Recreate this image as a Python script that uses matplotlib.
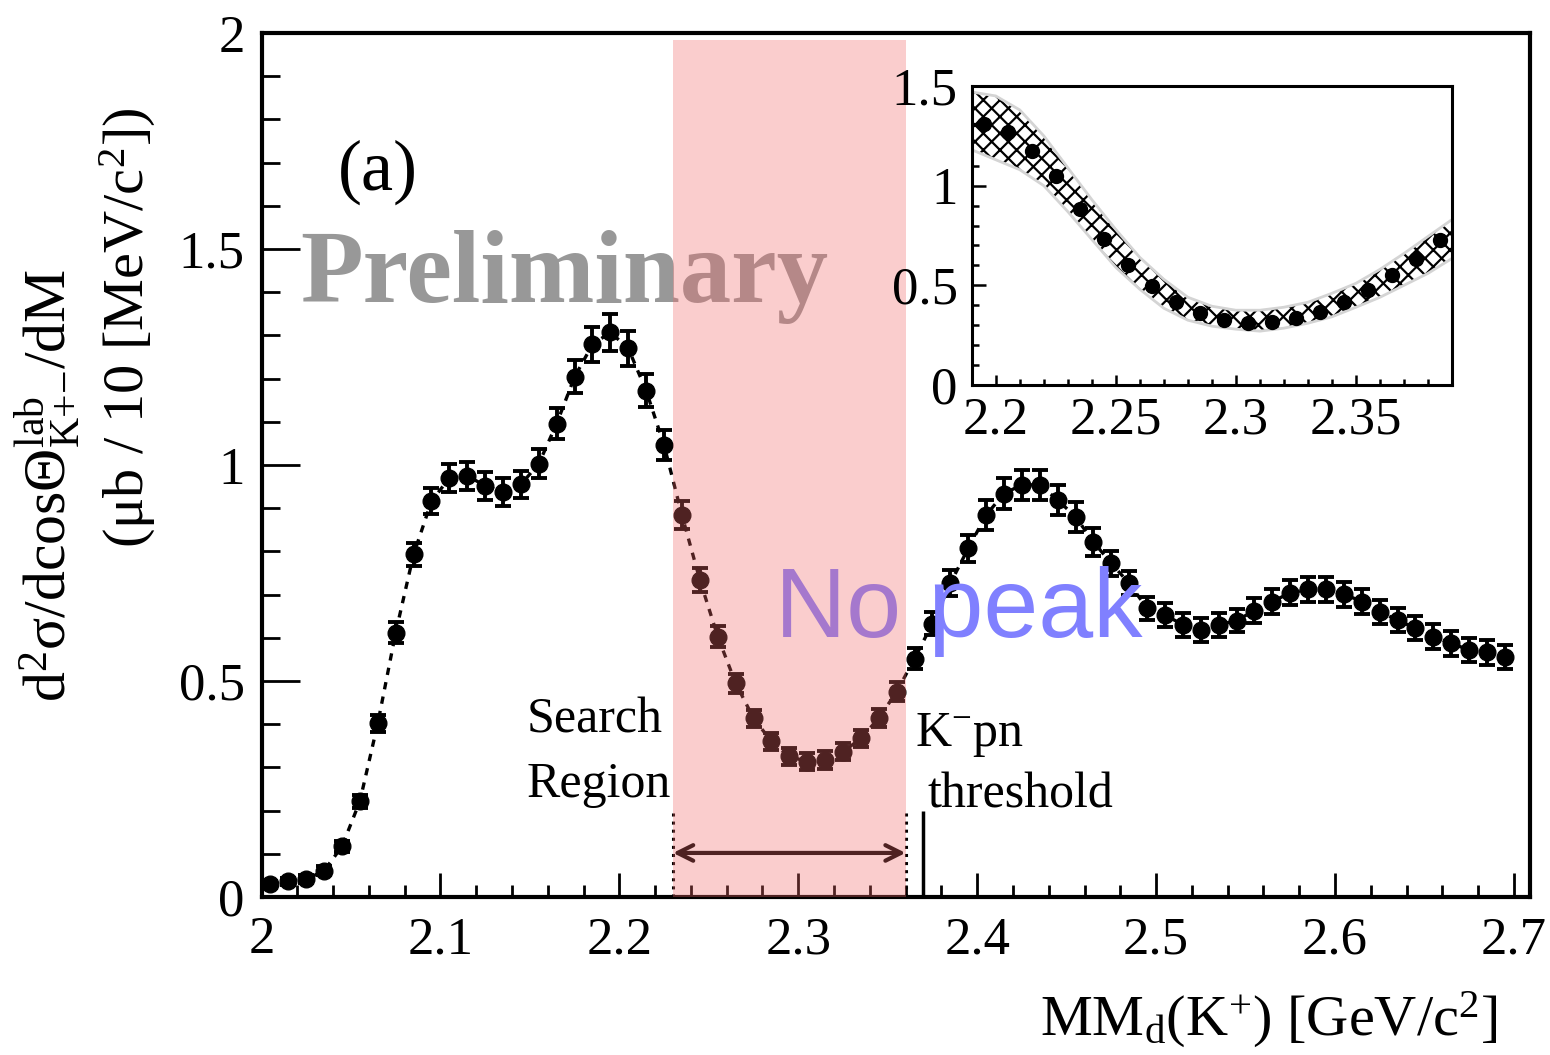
import matplotlib
matplotlib.use("Agg")
import matplotlib.pyplot as plt
import numpy as np
from matplotlib.ticker import MultipleLocator, FormatStrFormatter

plt.rcParams['font.family'] = ['Liberation Serif', 'DejaVu Serif']
plt.rcParams['mathtext.fontset'] = 'custom'
plt.rcParams['mathtext.rm'] = 'Liberation Serif'
plt.rcParams['mathtext.it'] = 'Liberation Serif:italic'
plt.rcParams['mathtext.bf'] = 'Liberation Serif:bold'
plt.rcParams['hatch.linewidth'] = 1.6

# bin centres, 10 MeV bins
mass = [2.005, 2.015, 2.025, 2.035, 2.045, 2.055, 2.065, 2.075, 2.085, 2.095,
        2.105, 2.115, 2.125, 2.135, 2.145, 2.155, 2.165, 2.175, 2.185, 2.195,
        2.205, 2.215, 2.225, 2.235, 2.245, 2.255, 2.265, 2.275, 2.285, 2.295,
        2.305, 2.315, 2.325, 2.335, 2.345, 2.355, 2.365, 2.375, 2.385, 2.395,
        2.405, 2.415, 2.425, 2.435, 2.445, 2.455, 2.465, 2.475, 2.485, 2.495,
        2.505, 2.515, 2.525, 2.535, 2.545, 2.555, 2.565, 2.575, 2.585, 2.595,
        2.605, 2.615, 2.625, 2.635, 2.645, 2.655, 2.665, 2.675, 2.685, 2.695]
xsec = [0.029, 0.036, 0.041, 0.061, 0.117, 0.222, 0.402, 0.612, 0.793, 0.916,
        0.970, 0.975, 0.952, 0.938, 0.955, 1.003, 1.096, 1.204, 1.279, 1.307,
        1.270, 1.172, 1.046, 0.884, 0.734, 0.603, 0.495, 0.414, 0.360, 0.326,
        0.313, 0.317, 0.336, 0.367, 0.414, 0.475, 0.552, 0.633, 0.726, 0.807,
        0.884, 0.934, 0.954, 0.954, 0.919, 0.880, 0.822, 0.772, 0.726, 0.668,
        0.653, 0.630, 0.618, 0.630, 0.640, 0.663, 0.684, 0.704, 0.712, 0.712,
        0.701, 0.684, 0.660, 0.641, 0.622, 0.603, 0.587, 0.572, 0.566, 0.556]
xsec_err = [0.008, 0.008, 0.009, 0.010, 0.012, 0.015, 0.020, 0.024, 0.027, 0.030,
            0.032, 0.032, 0.032, 0.032, 0.032, 0.033, 0.036, 0.038, 0.040, 0.042,
            0.040, 0.038, 0.035, 0.032, 0.028, 0.025, 0.022, 0.020, 0.020, 0.020,
            0.020, 0.020, 0.020, 0.020, 0.021, 0.022, 0.025, 0.027, 0.030, 0.032,
            0.034, 0.035, 0.035, 0.035, 0.035, 0.034, 0.032, 0.030, 0.028, 0.027,
            0.027, 0.027, 0.027, 0.027, 0.027, 0.028, 0.028, 0.029, 0.029, 0.029,
            0.029, 0.028, 0.028, 0.028, 0.028, 0.028, 0.028, 0.028, 0.028, 0.028]

# inset: fit band
band_x = [2.19, 2.20, 2.21, 2.22, 2.23, 2.24, 2.25, 2.26, 2.27, 2.28, 2.29,
          2.30, 2.31, 2.32, 2.33, 2.34, 2.35, 2.36, 2.37, 2.38, 2.39]
band_lo = [1.18, 1.13, 1.08, 1.00, 0.87, 0.73, 0.59, 0.48, 0.385, 0.325, 0.295,
           0.28, 0.27, 0.285, 0.31, 0.342, 0.39, 0.44, 0.50, 0.56, 0.635]
band_hi = [1.47, 1.45, 1.38, 1.25, 1.09, 0.93, 0.78, 0.64, 0.53, 0.44, 0.395,
           0.375, 0.375, 0.39, 0.415, 0.46, 0.51, 0.58, 0.66, 0.745, 0.83]

search_lo, search_hi = 2.23, 2.36
threshold = 2.37

fig = plt.figure(figsize=(15.5, 10.55), dpi=100)
ax = fig.add_axes([0.16871, 0.14976, 0.81839, 0.81896])

ax.plot(mass, xsec, ls=(0, (2.2, 2.2)), color='k', lw=2.4, zorder=4)
ax.errorbar(mass, xsec, yerr=xsec_err, fmt='o', color='k', ms=12,
            capsize=6, capthick=2.8, elinewidth=2.8, zorder=5)

ax.set_xlim(2.0, 2.709)
ax.set_ylim(0, 2)
ax.xaxis.set_major_locator(MultipleLocator(0.1))
ax.xaxis.set_minor_locator(MultipleLocator(0.02))
ax.yaxis.set_major_locator(MultipleLocator(0.5))
ax.yaxis.set_minor_locator(MultipleLocator(0.1))
ax.xaxis.set_major_formatter(FormatStrFormatter('%g'))
ax.yaxis.set_major_formatter(FormatStrFormatter('%g'))
ax.tick_params(axis='both', which='both', direction='in', top=False, right=False,
               width=2, labelsize=38)
ax.tick_params(axis='y', which='major', length=27, pad=12)
ax.tick_params(axis='y', which='minor', length=13)
ax.tick_params(axis='x', which='major', length=17, pad=14)
ax.tick_params(axis='x', which='minor', length=8.5)
for s in ax.spines.values():
    s.set_linewidth(3)

# search region markers
ax.vlines([search_lo, search_hi], 0, 0.2, colors='k', linestyles=':', lw=2.2, zorder=6)
ax.annotate('', xy=(search_lo, 0.102), xytext=(search_hi, 0.102),
            arrowprops=dict(arrowstyle='<->', lw=3, color='k', mutation_scale=28,
                            shrinkA=0, shrinkB=0), zorder=6)
ax.vlines(threshold, 0, 0.2, colors='k', lw=2.5, zorder=6)

ax.text(2.148, 0.41, 'Search', fontsize=36, ha='left', va='center')
ax.text(2.148, 0.259, 'Region', fontsize=36, ha='left', va='center')
ax.text(2.365, 0.375, r'K$^{-}$pn', fontsize=36, ha='left', va='center')
ax.text(2.3725, 0.236, 'threshold', fontsize=36, ha='left', va='center')
ax.text(2.065, 1.678, '(a)', fontsize=52, ha='center', va='center')
ax.text(2.0215, 1.377, 'Preliminary', fontsize=74, fontweight='bold',
        color='#989898', ha='left', va='baseline', zorder=3)
ax.text(2.287, 0.602, 'No peak', fontsize=71, color='#8080ff',
        family=['Liberation Sans', 'DejaVu Sans'], ha='left', va='baseline', zorder=7)

ax.axvspan(search_lo, search_hi, ymin=0, ymax=1.984 / 2,
           facecolor=(242 / 255, 106 / 255, 106 / 255), alpha=0.33, lw=0, zorder=20)

fig.text(48 / 1550, 1 - 485 / 1055,
         r'$\mathrm{d^{2}\sigma/dcos\Theta^{lab}_{K{+}{-}}/dM}$',
         rotation=90, fontsize=43, ha='center', va='center')
fig.text(128 / 1550, 1 - 328 / 1055, r'(μb / 10 [MeV/c$^{2}$])',
         rotation=90, fontsize=42, ha='center', va='center')
fig.text(1497 / 1550, 1 - 1020 / 1055, r'MM$_{\mathrm{d}}$(K$^{+}$) [GeV/c$^{2}$]',
         fontsize=42, ha='right', va='center')

# inset
ax2 = fig.add_axes([0.6269, 0.6351, 0.3099, 0.2834])
ax2.fill_between(band_x, band_lo, band_hi, facecolor='white', edgecolor='k',
                 hatch='xx', linewidth=0, zorder=2)
ax2.plot(band_x, band_hi, color='#d4d4d4', lw=2, zorder=2)
ax2.plot(band_x, band_lo, color='#d4d4d4', lw=2, zorder=2)
ax2.plot(mass, xsec, 'o', color='k', ms=10, zorder=3)
ax2.set_xlim(2.19, 2.39)
ax2.set_ylim(0, 1.5)
ax2.xaxis.set_major_locator(MultipleLocator(0.05))
ax2.xaxis.set_minor_locator(MultipleLocator(0.01))
ax2.yaxis.set_major_locator(MultipleLocator(0.5))
ax2.yaxis.set_minor_locator(MultipleLocator(0.1))
ax2.xaxis.set_major_formatter(FormatStrFormatter('%g'))
ax2.yaxis.set_major_formatter(FormatStrFormatter('%g'))
ax2.tick_params(axis='both', which='both', direction='in', top=False, right=False,
                width=1.8, labelsize=38)
ax2.tick_params(axis='y', which='major', length=10, pad=10)
ax2.tick_params(axis='y', which='minor', length=5)
ax2.tick_params(axis='x', which='major', length=7, pad=8)
ax2.tick_params(axis='x', which='minor', length=4)
for s in ax2.spines.values():
    s.set_linewidth(2.2)

fig.savefig('out.png', dpi=100)
